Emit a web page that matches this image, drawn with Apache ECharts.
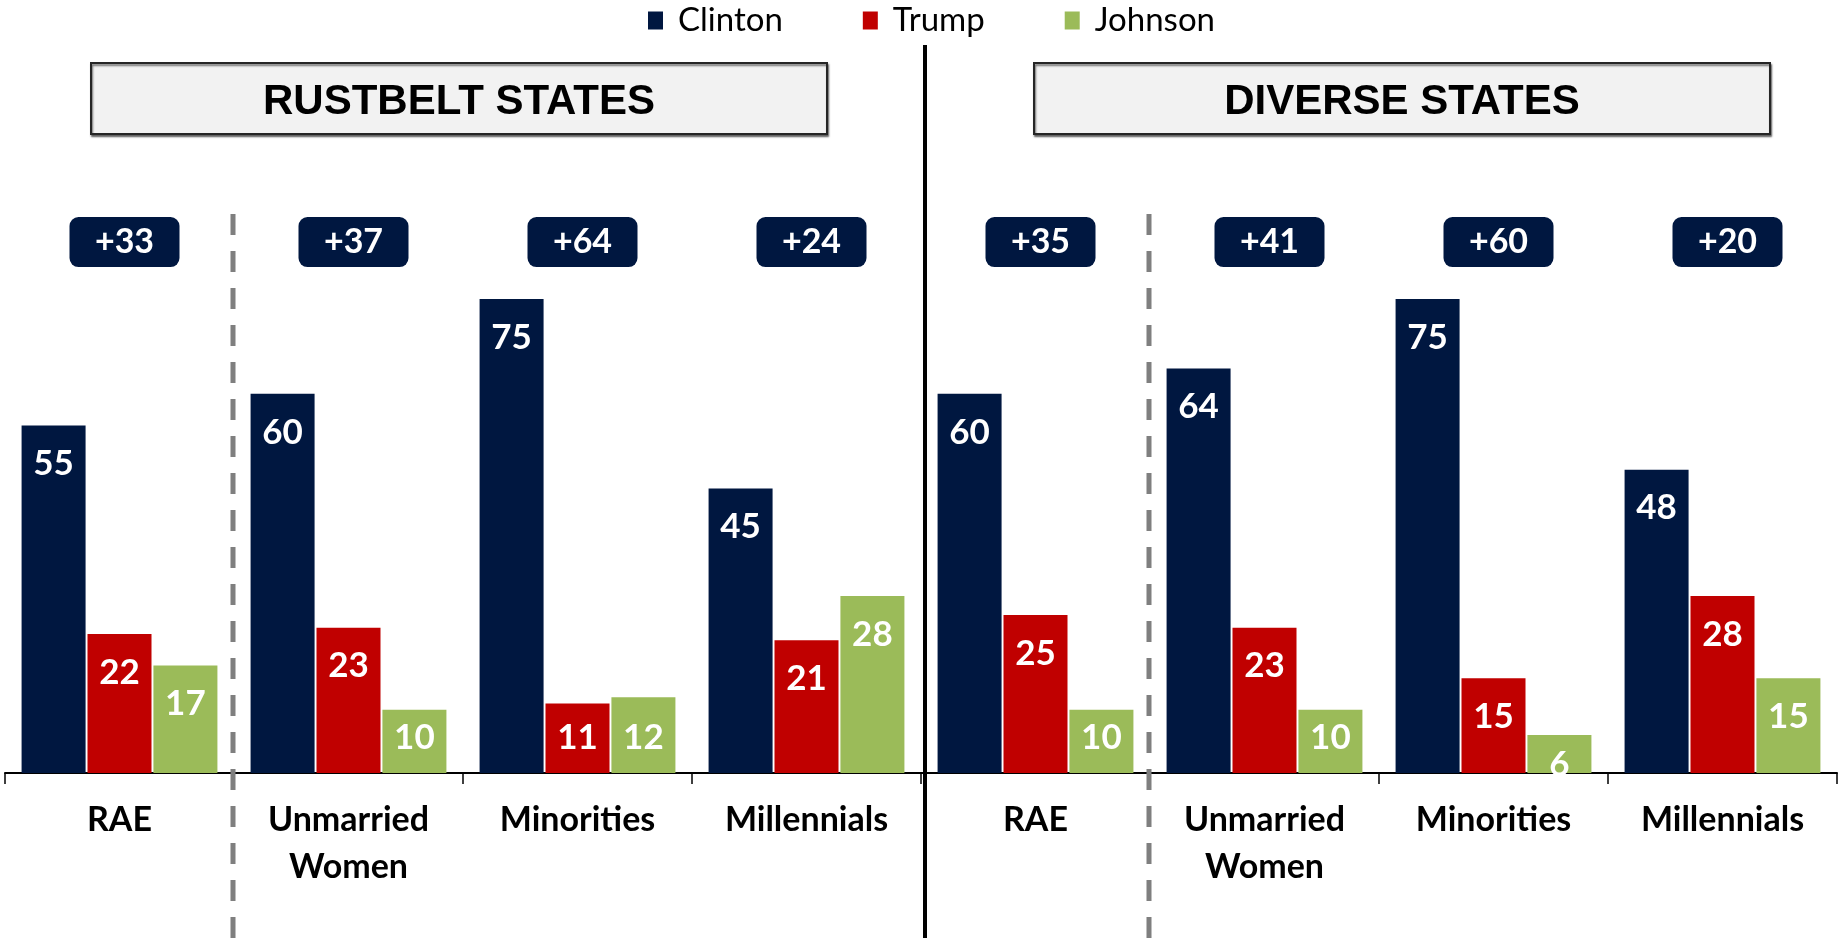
<!DOCTYPE html>
<html><head><meta charset="utf-8">
<script src="https://cdn.jsdelivr.net/npm/echarts@6/dist/echarts.min.js"></script>
<style>html,body{margin:0;padding:0;background:#fff}#c{width:1844px;height:938px}</style>
</head><body><div id="c"></div>
<script>
const categories = ['RAE','Unmarried\nWomen','Minorities','Millennials','RAE','Unmarried\nWomen','Minorities','Millennials'];
const clinton = [55,60,75,45,60,64,75,48];
const trump   = [22,23,11,21,25,23,15,28];
const johnson = [17,10,12,28,10,10,6,15];
const margins = ['+33','+37','+64','+24','+35','+41','+60','+20'];
const sections = ['RUSTBELT STATES','DIVERSE STATES'];
const seriesNames = ['Clinton','Trump','Johnson'];
const colors = ['#001740','#C00000','#9BBB59'];

const chart = echarts.init(document.getElementById('c'));

function labelFor(v){
  if (v >= 13) return {position:'insideTop', distance:21};
  if (v >= 8) return {position:'insideBottom', distance:18};
  return {position:'insideBottom', distance:-9};
}
function barData(arr){ return arr.map(v => ({value:v, label:labelFor(v)})); }

const barLabel = {show:true, color:'#fff', fontFamily:'Lato', fontWeight:'bold', fontSize:35, lineHeight:35};

function barSeries(name, arr, color){
  return {name, type:'bar', data:barData(arr), barWidth:64, barGap:'3%',
    itemStyle:{color}, label:barLabel, z:3};
}

const BADGE_LEVEL = 84;
const badgePath = 'path://M9,0H101A9,9 0 0 1 110,9V41A9,9 0 0 1 101,50H9A9,9 0 0 1 0,41V9A9,9 0 0 1 9,0Z';

chart.setOption({
  animation:false,
  color: colors,
  legend:{data:seriesNames, left:648, top:4, padding:0, itemWidth:15, itemHeight:18, itemGap:80, icon:'rect',
    textStyle:{fontFamily:'Lato', fontSize:33, color:'#000', padding:[0,0,0,10]}},
  grid:{left:5, right:7, top:141, bottom:165},
  xAxis:{type:'category', data:categories,
    axisLine:{lineStyle:{color:'#000', width:2}},
    axisTick:{show:true, length:11, lineStyle:{color:'#000', width:1.5}},
    axisLabel:{color:'#000', fontFamily:'Lato', fontWeight:'bold', fontSize:34, lineHeight:47, margin:24, interval:0}},
  yAxis:{type:'value', min:0, max:100, show:false, splitLine:{show:false}},
  series:[
    barSeries(seriesNames[0], clinton, colors[0]),
    barSeries(seriesNames[1], trump, colors[1]),
    barSeries(seriesNames[2], johnson, colors[2]),
    {type:'scatter', data:margins.map((m,i)=>[i, BADGE_LEVEL]), symbol:badgePath, symbolSize:[110,50],
      symbolOffset:[5,0],
      itemStyle:{color:'#001740', opacity:1}, z:4,
      label:{show:true, position:'inside', formatter:p=>margins[p.dataIndex], color:'#fff',
        fontFamily:'Lato', fontWeight:'bold', fontSize:34}}
  ]
});

// decorations
const H = 938;
const cx = i => chart.convertToPixel({xAxisIndex:0}, i);
const axisY = chart.convertToPixel({yAxisIndex:0}, 0);
const mid = i => (cx(i) + cx(i+1)) / 2;
const graphics = [];
const boxes = [[91,827],[1034,1770]];
sections.forEach((s,k)=>{
  const [x0,x1] = boxes[k];
  graphics.push({type:'rect', z:5, shape:{x:x0, y:63, width:x1-x0, height:71},
    style:{fill:'#f2f2f2', stroke:'#262626', lineWidth:2, shadowColor:'rgba(0,0,0,0.55)', shadowOffsetY:2, shadowOffsetX:1, shadowBlur:2}});
  graphics.push({type:'text', z:6, style:{text:s, x:(x0+x1)/2, y:102, textAlign:'center', textVerticalAlign:'middle',
    font:'bold 42px "Liberation Sans", Arial, sans-serif', fill:'#000'}});
});
graphics.push({type:'line', z:10, shape:{x1:mid(3)+4, y1:45, x2:mid(3)+4, y2:H}, style:{stroke:'#000', lineWidth:4}});
[0,4].forEach(i=>{
  graphics.push({type:'line', z:10, shape:{x1:mid(i)-1, y1:214, x2:mid(i)-1, y2:H},
    style:{stroke:'#7f7f7f', lineWidth:5, lineDash:[21,16]}});
});
// hide parts of very low labels that fall below the axis line
[clinton,trump,johnson].forEach(arr=>arr.forEach((v,i)=>{
  if (v < 8) graphics.push({type:'rect', z:100, shape:{x:cx(i)-100, y:axisY+1.5, width:200, height:20}, style:{fill:'#fff'}});
}));
chart.setOption({graphic:graphics});
</script></body></html>
